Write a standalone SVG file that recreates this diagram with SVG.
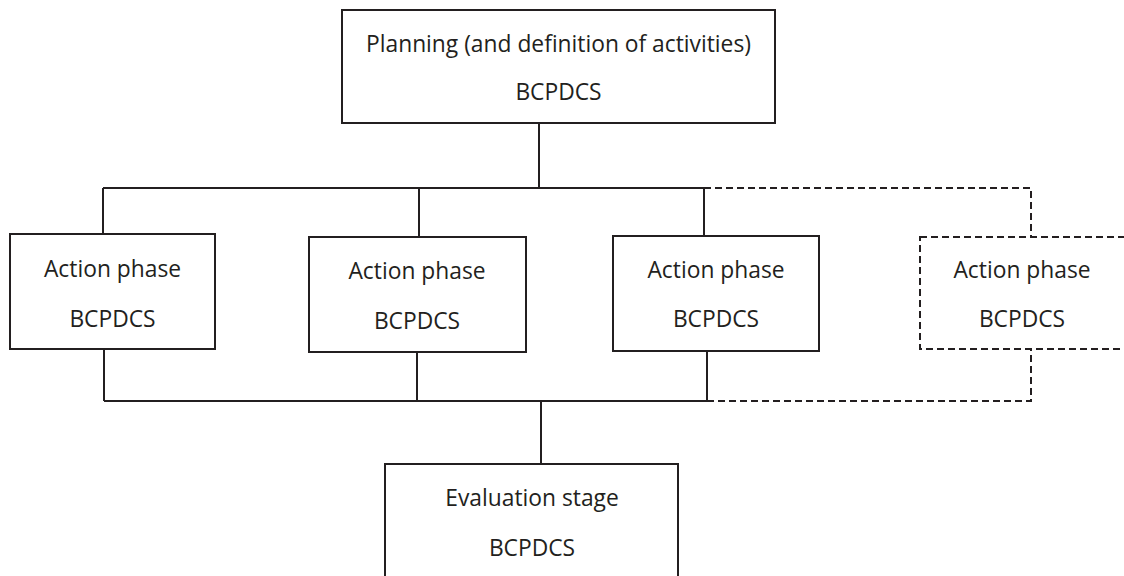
<svg xmlns="http://www.w3.org/2000/svg" width="1124" height="576" viewBox="0 0 1124 576">
<style>
.box{fill:#fff;stroke:#231f20;stroke-width:2}
.dbox{fill:#fff;stroke:#231f20;stroke-width:2;stroke-dasharray:7 4}
.ln{fill:none;stroke:#231f20;stroke-width:2}
.dl{fill:none;stroke:#231f20;stroke-width:2;stroke-dasharray:7 4}
text{font-family:"Open Sans","Liberation Sans",sans-serif;font-size:22.8px;fill:#231f20;text-anchor:middle}
</style>
<rect width="1124" height="576" fill="#fff"/>
<g id="connectors">
<path class="ln" d="M539 123V188M103 188H704M103 188V234M419 188V237M704 188V236"/>
<path class="dl" d="M704 188H1031V237"/>
<path class="ln" d="M104 349V401M417 352V401M707 351V401M104 401H707M541 401V464"/>
<path class="dl" d="M707 401H1031V349"/>
</g>
<g id="planning">
<rect class="box" x="342" y="10" width="433" height="113"/>
<text x="558.5" y="52">Planning (and definition of activities)</text>
<text x="558.5" y="100">BCPDCS</text>
</g>
<g id="action1">
<rect class="box" x="10" y="234" width="205" height="115"/>
<text x="112.5" y="277">Action phase</text>
<text x="112.5" y="327">BCPDCS</text>
</g>
<g id="action2">
<rect class="box" x="309" y="237" width="217" height="115"/>
<text x="417" y="279">Action phase</text>
<text x="417" y="329">BCPDCS</text>
</g>
<g id="action3">
<rect class="box" x="613" y="236" width="206" height="115"/>
<text x="716" y="278">Action phase</text>
<text x="716" y="327">BCPDCS</text>
</g>
<g id="action4">
<rect class="dbox" x="920" y="237" width="220" height="112"/>
<text x="1022" y="278">Action phase</text>
<text x="1022" y="327">BCPDCS</text>
</g>
<g id="evaluation">
<rect class="box" x="385" y="464" width="293" height="130"/>
<text x="532" y="506">Evaluation stage</text>
<text x="532" y="556">BCPDCS</text>
</g>
</svg>
